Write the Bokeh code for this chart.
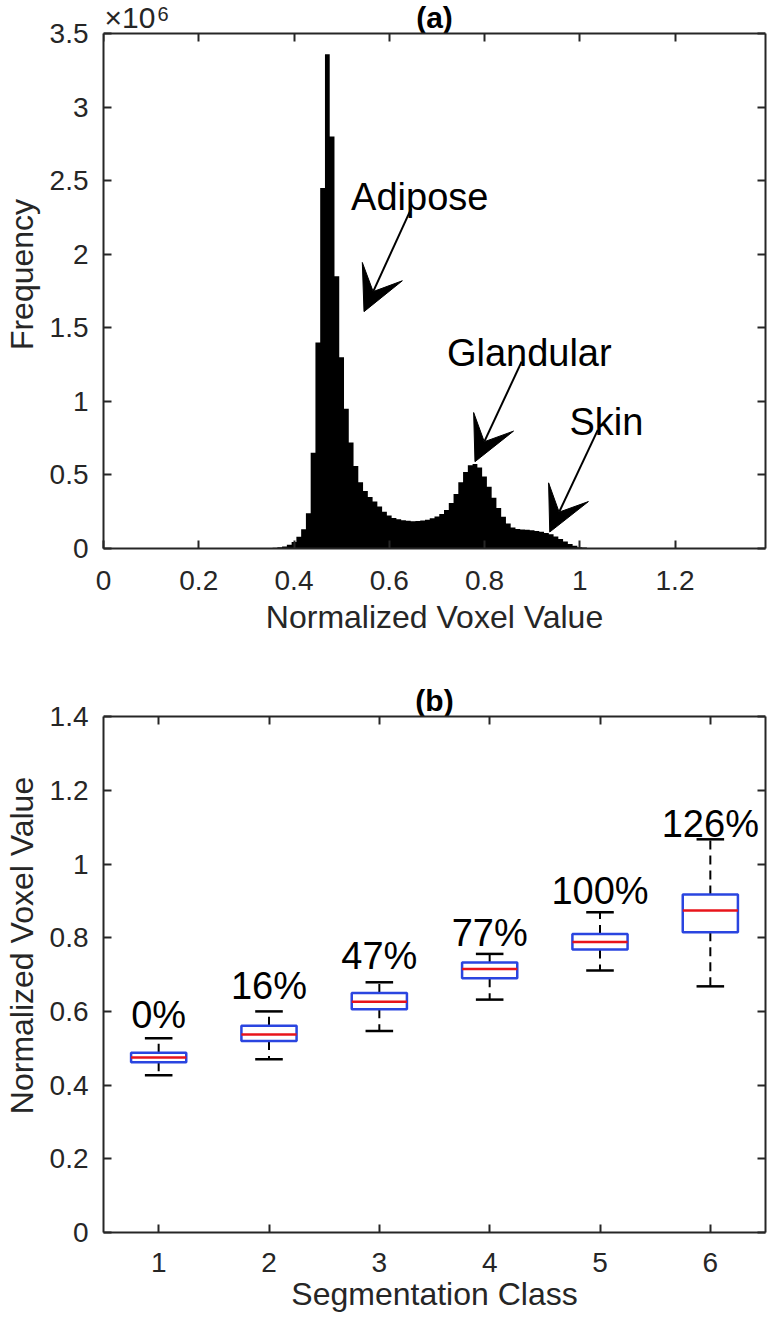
from bokeh.plotting import figure
from bokeh.models import Range1d, FixedTicker, LinearAxis, Label, Arrow, VeeHead
from bokeh.core.properties import value
from bokeh.layouts import column
from bokeh.embed import file_html
from bokeh.resources import INLINE

# ---------------- data: (a) histogram ----------------
bin_centers = [0.34, 0.35, 0.36, 0.37, 0.38, 0.39, 0.40, 0.41, 0.42, 0.43,
               0.44, 0.45, 0.46, 0.47, 0.48, 0.49, 0.50, 0.51, 0.52, 0.53,
               0.54, 0.55, 0.56, 0.57, 0.58, 0.59, 0.60, 0.61, 0.62, 0.63,
               0.64, 0.65, 0.66, 0.67, 0.68, 0.69, 0.70, 0.71, 0.72, 0.73,
               0.74, 0.75, 0.76, 0.77, 0.78, 0.79, 0.80, 0.81, 0.82, 0.83,
               0.84, 0.85, 0.86, 0.87, 0.88, 0.89, 0.90, 0.91, 0.92, 0.93,
               0.94, 0.95, 0.96, 0.97, 0.98, 0.99, 1.00, 1.01, 1.02, 1.03,
               1.04, 1.05, 1.06, 1.07, 1.08, 1.09, 1.10, 1.11, 1.12]
frequency = [2e3, 3e3, 5e3, 8e3, 13e3, 25e3, 45e3, 80e3, 130e3, 240e3,
             650e3, 1400e3, 2450e3, 3360e3, 2800e3, 1850e3, 1300e3, 950e3, 720e3, 560e3,
             450e3, 390e3, 350e3, 320e3, 285e3, 250e3, 225e3, 208e3, 198e3, 192e3,
             188e3, 186e3, 187e3, 190e3, 196e3, 205e3, 218e3, 235e3, 262e3, 310e3,
             370e3, 450e3, 520e3, 565e3, 575e3, 550e3, 490e3, 420e3, 345e3, 275e3,
             215e3, 170e3, 143e3, 133e3, 129e3, 127e3, 124e3, 119e3, 113e3, 105e3,
             97e3, 82e3, 65e3, 47e3, 31e3, 18e3, 9e3, 6e3, 4e3, 3e3,
             2.5e3, 2e3, 1.5e3, 1.2e3, 1e3, 0.8e3, 0.6e3, 0.5e3, 0.4e3]

hist_xticks = [0, 0.2, 0.4, 0.6, 0.8, 1.0, 1.2]
hist_xtick_labels = ["0", "0.2", "0.4", "0.6", "0.8", "1", "1.2"]
hist_yticks = [0, 0.5e6, 1.0e6, 1.5e6, 2.0e6, 2.5e6, 3.0e6, 3.5e6]
hist_ytick_labels = ["0", "0.5", "1", "1.5", "2", "2.5", "3", "3.5"]
HIST_XMAX = 1.39

tissue_names = ["Adipose", "Glandular", "Skin"]
tissue_text_x = [0.664, 0.894, 1.056]
tissue_text_y = [2.39e6, 1.33e6, 0.862e6]
arrow_x0 = [0.646, 0.878, 1.038]
arrow_y0 = [2.31e6, 1.27e6, 0.806e6]
arrow_x1 = [0.547, 0.780, 0.937]
arrow_y1 = [1.61e6, 0.59e6, 0.112e6]

# ---------------- data: (b) box plot ----------------
classes = [1, 2, 3, 4, 5, 6]
class_labels = ["1", "2", "3", "4", "5", "6"]
whisker_low = [0.427, 0.470, 0.547, 0.632, 0.711, 0.668]
q1 = [0.462, 0.520, 0.606, 0.690, 0.768, 0.815]
median = [0.475, 0.537, 0.626, 0.715, 0.788, 0.874]
q3 = [0.488, 0.561, 0.650, 0.733, 0.810, 0.917]
whisker_high = [0.527, 0.600, 0.679, 0.756, 0.869, 1.067]
pct_labels = ["0%", "16%", "47%", "77%", "100%", "126%"]
pct_label_y = [0.591, 0.668, 0.749, 0.813, 0.926, 1.108]

box_yticks = [0, 0.2, 0.4, 0.6, 0.8, 1.0, 1.2, 1.4]
box_ytick_labels = ["0", "0.2", "0.4", "0.6", "0.8", "1", "1.2", "1.4"]

# ---------------- styling ----------------
FONT = "Liberation Sans"
AX = "#262626"
TICK_SIZE = "28px"
LABEL_SIZE = "32px"
NOTE_SIZE = "38px"
TITLE_SIZE = "30px"
W = 768


def style_axes(p, xticks, xlabels, yticks, ylabels, xlabel, ylabel, ytop,
               x_std, xl_std):
    p.xaxis.ticker = FixedTicker(ticks=xticks)
    p.yaxis.ticker = FixedTicker(ticks=yticks)
    p.xaxis.major_label_overrides = {t: l for t, l in zip(xticks, xlabels)}
    p.yaxis.major_label_overrides = {t: l for t, l in zip(yticks, ylabels)}
    p.xaxis.axis_label = xlabel
    p.yaxis.axis_label = ylabel
    p.yaxis.bounds = (yticks[0], ytop)
    for ax in (p.xaxis[0], p.yaxis[0]):
        ax.axis_line_color = AX
        ax.axis_line_width = 2
        ax.major_tick_line_color = AX
        ax.major_tick_line_width = 2
        ax.major_tick_in = 8
        ax.major_tick_out = 0
        ax.minor_tick_in = 0
        ax.minor_tick_out = 0
        ax.major_label_text_font = FONT
        ax.major_label_text_font_size = TICK_SIZE
        ax.major_label_text_color = AX
        ax.axis_label_text_font = FONT
        ax.axis_label_text_font_size = LABEL_SIZE
        ax.axis_label_text_font_style = "normal"
        ax.axis_label_text_color = AX
    p.xaxis.major_label_standoff = x_std
    p.xaxis.axis_label_standoff = xl_std
    p.yaxis.major_label_standoff = 15
    p.yaxis.axis_label_standoff = 7

    # box edges: top axis drawn at the top of the plot box, right axis bounded
    top = LinearAxis(ticker=FixedTicker(ticks=xticks), fixed_location=ytop)
    right = LinearAxis(ticker=FixedTicker(ticks=yticks), bounds=(yticks[0], ytop))
    for ax in (top, right):
        ax.major_label_text_font_size = "1px"
        ax.major_label_text_color = None
        ax.major_label_standoff = 0
        ax.axis_line_color = AX
        ax.axis_line_width = 2
        ax.major_tick_line_color = AX
        ax.major_tick_line_width = 2
        ax.major_tick_in = 8
        ax.major_tick_out = 0
        ax.minor_tick_in = 0
        ax.minor_tick_out = 0
    p.add_layout(top, "above")
    p.add_layout(right, "right")
    p.grid.visible = False
    p.outline_line_color = None
    p.background_fill_color = "white"
    p.border_fill_color = "white"


# ---------------- (a) ----------------
PAD1, BOX1 = 33, 514
ytop1 = hist_yticks[-1]
p1 = figure(width=W, height=658, output_backend="svg", toolbar_location=None,
            x_range=Range1d(0, HIST_XMAX),
            y_range=Range1d(0, ytop1 * (BOX1 + PAD1) / BOX1),
            min_border_left=95, min_border_right=3, min_border_top=0,
            min_border_bottom=110)
style_axes(p1, hist_xticks, hist_xtick_labels, hist_yticks, hist_ytick_labels,
           "Normalized Voxel Value", "Frequency", ytop1, 22, 6)

p1.varea_step(x=bin_centers, y1=0, y2=frequency, step_mode="center",
              fill_color="black")

for name, tx, ty, x0, y0, x1, y1 in zip(tissue_names, tissue_text_x, tissue_text_y,
                                        arrow_x0, arrow_y0, arrow_x1, arrow_y1):
    p1.add_layout(Label(x=tx, y=ty, text=name, text_align="center",
                        text_baseline="alphabetic", text_font=FONT,
                        text_font_size=NOTE_SIZE, text_color="black"))
    p1.add_layout(Arrow(x_start=x0, y_start=y0, x_end=x1, y_end=y1,
                        line_color="black", line_width=2,
                        end=VeeHead(size=44, fill_color="black",
                                    line_color="black", line_width=1)))

# title and exponent marker, above the plot box
p1.text(x=[HIST_XMAX / 2], y=[ytop1], text=["(a)"], text_align="center",
        text_baseline="bottom", text_font=value(FONT), text_font_size=TITLE_SIZE,
        text_font_style="bold", text_color="black")
p1.text(x=[0], y=[ytop1], text=["\u00d710"], text_align="left", x_offset=1,
        y_offset=0, text_baseline="bottom", text_font=value(FONT),
        text_font_size="30px", text_color=AX)
p1.text(x=[0], y=[ytop1], text=["6"], text_align="left", x_offset=54,
        y_offset=-13, text_baseline="bottom", text_font=value(FONT),
        text_font_size="20px", text_color=AX)

# ---------------- (b) ----------------
PAD2, BOX2 = 58, 515
ytop2 = box_yticks[-1]
p2 = figure(width=W, height=664, output_backend="svg", toolbar_location=None,
            x_range=Range1d(0.5, 6.5),
            y_range=Range1d(0, ytop2 * (BOX2 + PAD2) / BOX2),
            min_border_left=95, min_border_right=3, min_border_top=0,
            min_border_bottom=90)
style_axes(p2, classes, class_labels, box_yticks, box_ytick_labels,
           "Segmentation Class", "Normalized Voxel Value", ytop2, 20, 1)

BOX_HALF = 0.25
CAP_HALF = 0.125
xl = [c - BOX_HALF for c in classes]
xr = [c + BOX_HALF for c in classes]
cl = [c - CAP_HALF for c in classes]
cr = [c + CAP_HALF for c in classes]

p2.segment(x0=classes, y0=q3, x1=classes, y1=whisker_high, line_color="black",
           line_width=2, line_dash="9 6")
p2.segment(x0=classes, y0=q1, x1=classes, y1=whisker_low, line_color="black",
           line_width=2, line_dash="9 6")
p2.segment(x0=cl, y0=whisker_high, x1=cr, y1=whisker_high, line_color="black",
           line_width=2.5)
p2.segment(x0=cl, y0=whisker_low, x1=cr, y1=whisker_low, line_color="black",
           line_width=2.5)
p2.quad(left=xl, right=xr, bottom=q1, top=q3, fill_color=None,
        line_color="#2a45e0", line_width=2.5)
p2.segment(x0=xl, y0=median, x1=xr, y1=median, line_color="#e8141b",
           line_width=2.5)
p2.text(x=classes, y=pct_label_y, text=pct_labels, text_align="center",
        text_baseline="alphabetic", text_font=value(FONT),
        text_font_size=NOTE_SIZE, text_color="black")

p2.text(x=[3.5], y=[ytop2], text=["(b)"], text_align="center",
        text_baseline="bottom", text_font=value(FONT), text_font_size=TITLE_SIZE,
        text_font_style="bold", text_color="black")

layout = column(p1, p2, spacing=0)
open("out.html", "w").write(file_html(layout, INLINE))
